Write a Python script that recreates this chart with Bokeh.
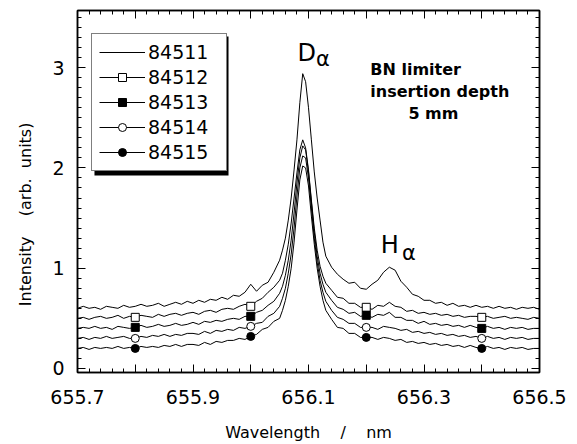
from bokeh.plotting import figure
from bokeh.models import (Range1d, LinearAxis, FixedTicker, Legend, LegendItem,
                          BoxAnnotation, Label, CustomLabelingPolicy)
from bokeh.embed import file_html
from bokeh.resources import INLINE

# ---------------- data ----------------
wavelength = [
    655.70, 655.71, 655.72, 655.73, 655.74, 655.75, 655.76, 655.77, 655.78, 655.79,
    655.80, 655.81, 655.82, 655.83, 655.84, 655.85, 655.86, 655.87, 655.88, 655.89,
    655.90, 655.91, 655.92, 655.93, 655.94, 655.95, 655.96, 655.97,
    655.98, 655.99, 656.00, 656.01, 656.02, 656.03, 656.04, 656.05,
    656.055, 656.06, 656.065, 656.07, 656.075, 656.08, 656.085, 656.09,
    656.095, 656.10, 656.105, 656.11, 656.115, 656.12, 656.125, 656.13,
    656.14, 656.15, 656.16, 656.17, 656.18, 656.19, 656.20, 656.21, 656.22, 656.23,
    656.24, 656.25, 656.26, 656.27, 656.28, 656.29, 656.30, 656.31, 656.32, 656.33,
    656.34, 656.35, 656.36, 656.37, 656.38, 656.39, 656.40, 656.41, 656.42, 656.43,
    656.44, 656.45, 656.46, 656.47, 656.48, 656.49, 656.50,
]

s84511 = [
    0.60, 0.62, 0.60, 0.61, 0.59, 0.62, 0.61, 0.60, 0.63, 0.61,
    0.62, 0.64, 0.62, 0.63, 0.65, 0.62, 0.64, 0.66, 0.64, 0.67,
    0.65, 0.68, 0.66, 0.69, 0.68, 0.71, 0.69, 0.73,
    0.72, 0.76, 0.84, 0.77, 0.83, 0.86, 0.96, 1.08,
    1.18, 1.30, 1.48, 1.70, 1.98, 2.28, 2.65, 2.94,
    2.86, 2.60, 2.28, 1.96, 1.70, 1.48, 1.26, 1.12,
    1.01, 0.94, 0.89, 0.85, 0.86, 0.80, 0.79, 0.84, 0.88, 0.96,
    1.01, 0.98, 0.87, 0.81, 0.74, 0.72, 0.68, 0.68, 0.65, 0.66,
    0.63, 0.65, 0.62, 0.63, 0.61, 0.63, 0.61, 0.62, 0.60, 0.62,
    0.60, 0.61, 0.59, 0.61, 0.60, 0.61, 0.59,
]
s84512 = [
    0.50, 0.51, 0.49, 0.51, 0.52, 0.50, 0.51, 0.53, 0.50, 0.52,
    0.51, 0.53, 0.52, 0.51, 0.54, 0.52, 0.54, 0.55, 0.53, 0.55,
    0.56, 0.54, 0.57, 0.58, 0.56, 0.59, 0.60, 0.59,
    0.62, 0.64, 0.62, 0.67, 0.70, 0.76, 0.81, 0.88,
    0.95, 1.08, 1.24, 1.45, 1.70, 1.95, 2.18, 2.28,
    2.20, 1.98, 1.68, 1.40, 1.18, 1.02, 0.92, 0.85,
    0.78, 0.71, 0.70, 0.65, 0.65, 0.61, 0.61, 0.59, 0.63, 0.62,
    0.66, 0.62, 0.61, 0.57, 0.58, 0.55, 0.56, 0.54, 0.55, 0.53,
    0.54, 0.52, 0.53, 0.51, 0.52, 0.52, 0.51, 0.52, 0.50, 0.51,
    0.52, 0.50, 0.51, 0.50, 0.49, 0.51, 0.50,
]
s84513 = [
    0.40, 0.41, 0.40, 0.42, 0.40, 0.41, 0.39, 0.42, 0.41, 0.40,
    0.41, 0.43, 0.41, 0.42, 0.44, 0.42, 0.43, 0.45, 0.43, 0.44,
    0.46, 0.44, 0.47, 0.46, 0.48, 0.47, 0.49, 0.50,
    0.49, 0.52, 0.52, 0.56, 0.58, 0.63, 0.67, 0.75,
    0.82, 0.93, 1.08, 1.28, 1.55, 1.85, 2.10, 2.22,
    2.18, 1.96, 1.66, 1.36, 1.12, 0.95, 0.84, 0.76,
    0.68, 0.61, 0.59, 0.55, 0.56, 0.52, 0.53, 0.51, 0.54, 0.53,
    0.56, 0.51, 0.51, 0.48, 0.48, 0.45, 0.47, 0.44, 0.45, 0.43,
    0.44, 0.42, 0.43, 0.41, 0.43, 0.41, 0.40, 0.42, 0.40, 0.41,
    0.39, 0.41, 0.40, 0.41, 0.39, 0.40, 0.40,
]
s84514 = [
    0.30, 0.31, 0.29, 0.31, 0.30, 0.32, 0.30, 0.31, 0.32, 0.30,
    0.30, 0.32, 0.31, 0.33, 0.32, 0.34, 0.32, 0.34, 0.33, 0.35,
    0.35, 0.34, 0.37, 0.35, 0.38, 0.37, 0.39, 0.38,
    0.41, 0.40, 0.42, 0.45, 0.46, 0.52, 0.55, 0.62,
    0.70, 0.80, 0.95, 1.14, 1.40, 1.72, 2.00, 2.12,
    2.10, 1.90, 1.60, 1.30, 1.06, 0.88, 0.76, 0.67,
    0.58, 0.51, 0.49, 0.45, 0.45, 0.41, 0.41, 0.41, 0.39, 0.42,
    0.41, 0.40, 0.38, 0.39, 0.36, 0.37, 0.35, 0.36, 0.34, 0.35,
    0.33, 0.34, 0.32, 0.33, 0.31, 0.32, 0.30, 0.32, 0.30, 0.31,
    0.29, 0.31, 0.30, 0.31, 0.29, 0.30, 0.30,
]
s84515 = [
    0.20, 0.21, 0.19, 0.21, 0.20, 0.21, 0.20, 0.22, 0.20, 0.21,
    0.20, 0.22, 0.21, 0.22, 0.21, 0.23, 0.22, 0.24, 0.22, 0.24,
    0.24, 0.23, 0.26, 0.24, 0.27, 0.26, 0.28, 0.28,
    0.30, 0.29, 0.32, 0.34, 0.39, 0.41, 0.47, 0.50,
    0.58, 0.68, 0.82, 1.00, 1.26, 1.58, 1.88, 2.02,
    2.00, 1.82, 1.52, 1.24, 1.00, 0.82, 0.68, 0.58,
    0.49, 0.41, 0.40, 0.35, 0.35, 0.31, 0.31, 0.31, 0.29, 0.31,
    0.30, 0.28, 0.29, 0.26, 0.27, 0.25, 0.26, 0.24, 0.25, 0.23,
    0.24, 0.22, 0.23, 0.21, 0.23, 0.21, 0.20, 0.22, 0.20, 0.21,
    0.19, 0.21, 0.20, 0.21, 0.19, 0.20, 0.20,
]

series_names = ["84511", "84512", "84513", "84514", "84515"]
series_values = [s84511, s84512, s84513, s84514, s84515]
series_markers = [None, "square", "square", "circle", "circle"]
series_marker_fill = [None, "white", "black", "white", "black"]
marker_wavelengths = [655.8, 656.0, 656.2, 656.4]

x_major_ticks = [655.7, 655.8, 655.9, 656.0, 656.1, 656.2, 656.3, 656.4, 656.5]
y_major_ticks = [0, 1, 2, 3]

FONT = "DejaVu Sans"

# ---------------- figure ----------------
p = figure(width=568, height=444, output_backend="svg", toolbar_location=None,
           x_range=Range1d(655.7, 656.5), y_range=Range1d(-0.04, 3.57),
           min_border_left=77, min_border_right=29, min_border_top=10,
           min_border_bottom=72)
p.xgrid.visible = False
p.ygrid.visible = False
p.outline_line_color = "black"
p.outline_line_width = 1.5
p.background_fill_color = "white"
p.border_fill_color = "white"

x_minor = [round(655.7 + 0.02 * i, 2) for i in range(41)]
y_minor = [round(0.1 * i, 1) for i in range(36)]
xticker = FixedTicker(ticks=x_major_ticks, minor_ticks=x_minor)
yticker = FixedTicker(ticks=y_major_ticks, minor_ticks=y_minor)

every_other = CustomLabelingPolicy(code="""
const idx = [...indices];
for (const i of idx) { if (i % 2 == 1) indices.unset(i) }
return indices
""")
no_labels = CustomLabelingPolicy(code="""
const idx = [...indices];
for (const i of idx) { indices.unset(i) }
return indices
""")


def style_axis(ax, show_labels):
    ax.major_tick_in = 8
    ax.major_tick_out = 0
    ax.minor_tick_in = 4
    ax.minor_tick_out = 0
    ax.major_tick_line_color = "black"
    ax.minor_tick_line_color = "black"
    ax.major_tick_line_width = 1
    ax.minor_tick_line_width = 1
    ax.axis_line_color = "black"
    ax.axis_line_width = 1.5
    if show_labels:
        ax.major_label_text_font = FONT
        ax.major_label_text_font_size = "19px"
        ax.major_label_text_color = "black"
        ax.axis_label_text_font = FONT
        ax.axis_label_text_font_size = "16px"
        ax.axis_label_text_font_style = "normal"
        ax.axis_label_text_color = "black"
    else:
        ax.major_label_policy = no_labels
        ax.major_label_text_font_size = "8px"
        ax.major_label_standoff = 0
        ax.axis_label = None


xax = p.xaxis[0]
xax.ticker = xticker
style_axis(xax, True)
xax.major_label_policy = every_other
xax.major_label_standoff = 17
xax.axis_label = "Wavelength\u00a0\u00a0\u00a0\u00a0/\u00a0\u00a0\u00a0\u00a0nm"
xax.axis_label_standoff = 16

yax = p.yaxis[0]
yax.ticker = yticker
style_axis(yax, True)
yax.major_label_standoff = 13
yax.axis_label = ("Intensity\u00a0\u00a0\u00a0\u00a0(arb.\u00a0\u00a0units)"
                  + "\u00a0" * 9)
yax.axis_label_standoff = 14

top_ax = LinearAxis(ticker=xticker)
style_axis(top_ax, False)
p.add_layout(top_ax, "above")
right_ax = LinearAxis(ticker=yticker)
style_axis(right_ax, False)
p.add_layout(right_ax, "right")

# ---------------- series ----------------
legend_items = []
for name, vals, mk, fill in zip(series_names, series_values, series_markers, series_marker_fill):
    lr = p.line(wavelength, vals, line_color="black", line_width=1)
    rends = [lr]
    if mk is not None:
        idx = [wavelength.index(w) for w in marker_wavelengths]
        my = [vals[i] for i in idx]
        sr = p.scatter(marker_wavelengths, my, marker=mk, size=8,
                       fill_color=fill, line_color="black", line_width=1)
        rends.append(sr)
    legend_items.append(LegendItem(label=name, renderers=rends))

# legend shadow
shadow = BoxAnnotation(left=655.7294, right=655.9615, top=3.31, bottom=1.925,
                       fill_color="black", fill_alpha=1.0, line_color=None,
                       level="overlay")
p.add_layout(shadow)

legend = Legend(items=legend_items, location=(14, 201), orientation="vertical",
                label_text_font=FONT, label_text_font_size="19px",
                label_text_color="black",
                glyph_width=46, glyph_height=20, label_height=20, label_width=71,
                label_standoff=3, spacing=3, padding=7, margin=0,
                border_line_color="black", border_line_width=1.5,
                background_fill_color="white", background_fill_alpha=1.0)
p.add_layout(legend)

# ---------------- annotations ----------------
labels = [
    dict(x=656.081, y=3.15, text="D", size="24px", style="normal"),
    dict(x=656.113, y=3.09, text="\u03b1", size="21px", style="normal"),
    dict(x=656.225, y=1.23, text="H", size="24px", style="normal"),
    dict(x=656.262, y=1.15, text="\u03b1", size="21px", style="normal"),
    dict(x=656.207, y=2.98, text="BN limiter", size="16px", style="bold"),
    dict(x=656.207, y=2.76, text="insertion depth", size="16px", style="bold"),
    dict(x=656.273, y=2.54, text="5 mm", size="16px", style="bold"),
]
for d in labels:
    p.add_layout(Label(x=d["x"], y=d["y"], text=d["text"], text_font=FONT,
                       text_font_size=d["size"], text_font_style=d["style"],
                       text_color="black", text_baseline="alphabetic",
                       text_align="left"))

open("out.html", "w").write(file_html(p, INLINE))
